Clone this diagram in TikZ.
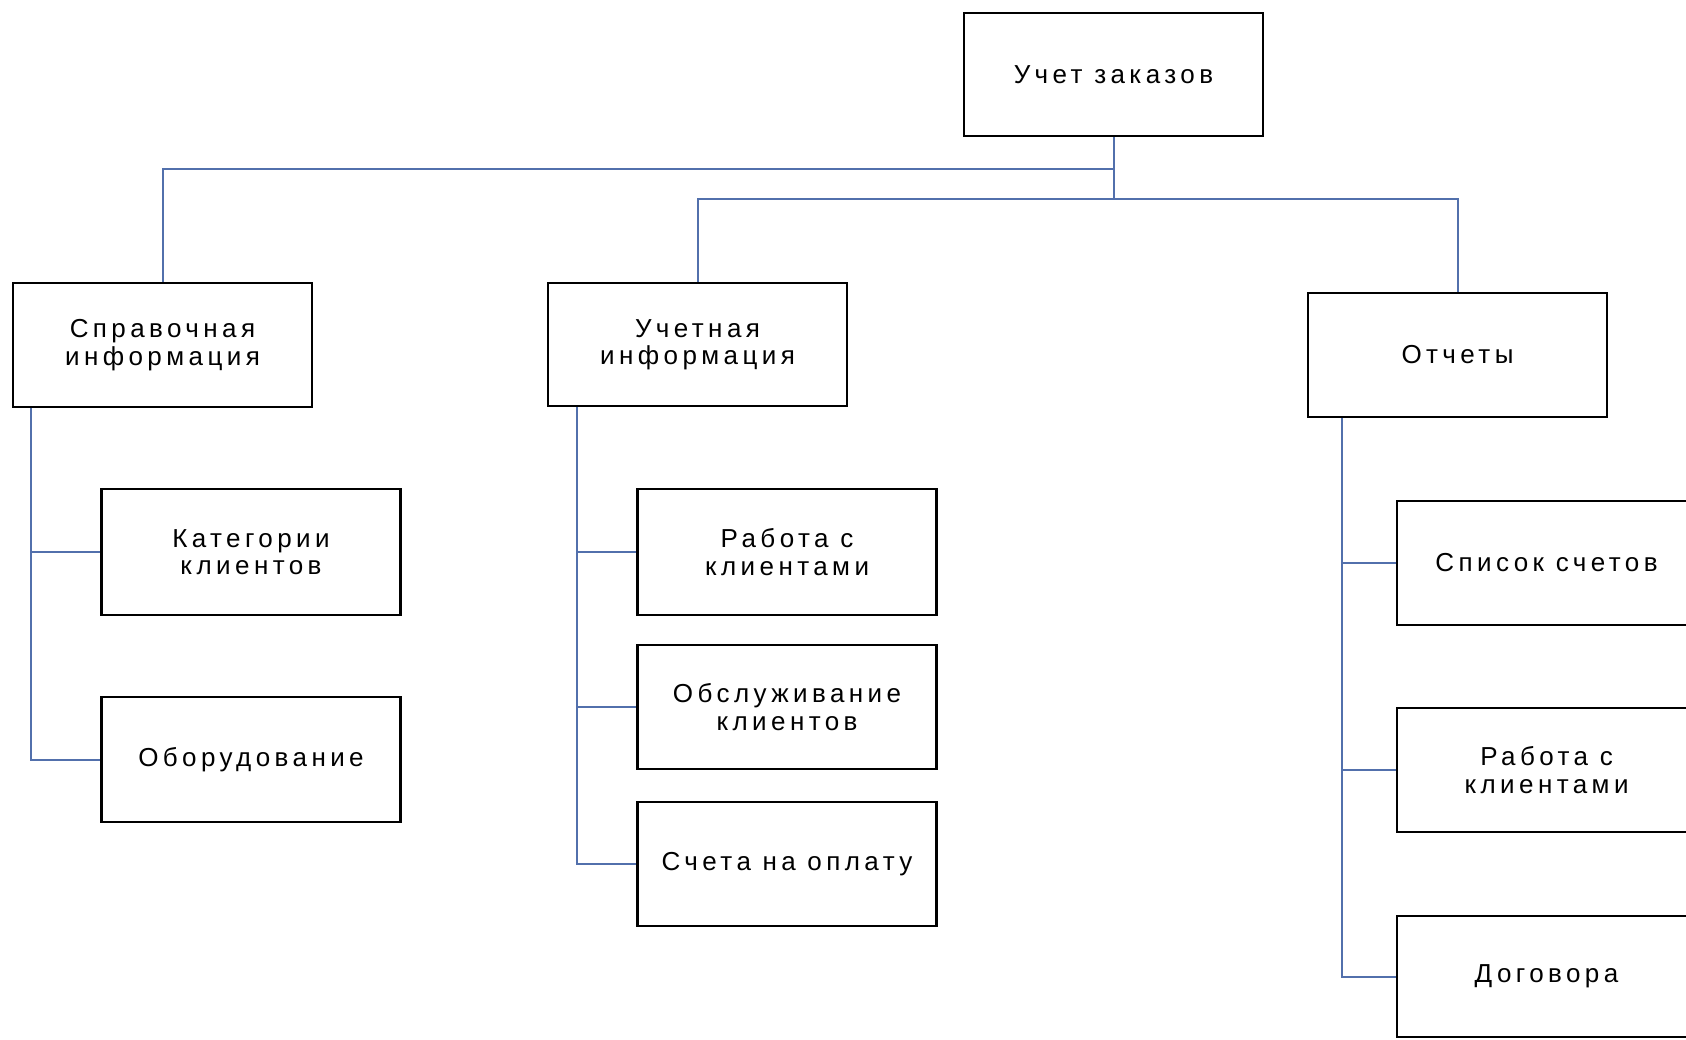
\documentclass[tikz,border=0pt]{standalone}
\usepackage{fontspec}
\setmainfont{Liberation Sans}[LetterSpace=17]
\definecolor{connblue}{RGB}{82,112,172}
\begin{document}
\begin{tikzpicture}[x=1pt,y=-1pt,
  box/.style={draw=black,line width=2.2pt,rectangle,inner sep=0pt,align=center,
    font=\fontsize{26}{27.5}\selectfont,minimum width=299pt},
  conn/.style={draw=connblue,line width=2pt}]
\useasboundingbox (0,0) rectangle (1686,1039);
\fill[white] (0,0) rectangle (1686,1039);
% level 0
\node[box,minimum height=123pt] (top) at (1113.5,74.5) {Учет заказов};
% level 1
\node[box,minimum height=124pt] (sprav) at (162.5,345) {Справочная\\информация};
\node[box,minimum height=123pt] (uchet) at (697.5,344.5) {Учетная\\информация};
\node[box,minimum height=124pt] (otch) at (1457.5,355) {Отчеты};
% left children
\node[box,minimum height=126pt] (kat) at (251,552) {Категории\\клиентов};
\node[box,minimum height=125pt] (obor) at (251,759.5) {Оборудование};
% middle children
\node[box,minimum height=126pt] (m1) at (787,552) {Работа с\\клиентами};
\node[box,minimum height=124pt] (m2) at (787,707) {Обслуживание\\клиентов};
\node[box,minimum height=124pt] (m3) at (787,864) {Счета на оплату};
% right children
\node[box,minimum height=124pt] (r1) at (1546.5,563) {Список счетов};
\node[box,minimum height=124pt] (r2) at (1546.5,770) {Работа с\\клиентами};
\node[box,minimum height=121pt] (r3) at (1546.5,976.5) {Договора};
% bus coordinates
\coordinate (b1) at (1113.5,169);
\coordinate (b2) at (1113.5,199);
\draw[conn] (top.south) -- (b2);
\draw[conn] (sprav.north) |- (b1);
\draw[conn] (uchet.north) |- (b2);
\draw[conn] (otch.north) |- (b2);
% left branch
\coordinate (sv) at ([xshift=19pt]sprav.south west);
\draw[conn] (sv) |- (kat.west);
\draw[conn] (sv) |- (obor.west);
% middle branch
\coordinate (uv) at ([xshift=30pt]uchet.south west);
\draw[conn] (uv) |- (m1.west);
\draw[conn] (uv) |- (m2.west);
\draw[conn] (uv) |- (m3.west);
% right branch
\coordinate (ov) at ([xshift=35pt]otch.south west);
\draw[conn] (ov) |- (r1.west);
\draw[conn] (ov) |- (r2.west);
\draw[conn] (ov) |- (r3.west);
\end{tikzpicture}
\end{document}
